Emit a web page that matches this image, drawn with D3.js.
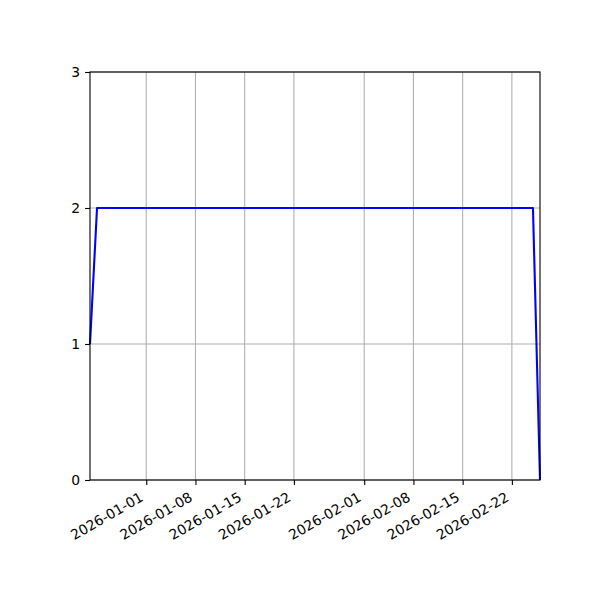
<!DOCTYPE html>
<html>
<head>
<meta charset="utf-8">
<script src="https://cdn.jsdelivr.net/npm/d3@7"></script>
<style>
  body { margin: 0; background: #fff; }
  svg text { font-family: "DejaVu Sans", sans-serif; }
</style>
</head>
<body>
<div id="chart"></div>
<script>
// data
const dates = ["2025-12-24", "2025-12-25", "2026-02-25", "2026-02-26"];
const values = [1, 2, 2, 0];
const xTicks = ["2026-01-01", "2026-01-08", "2026-01-15", "2026-01-22",
                "2026-02-01", "2026-02-08", "2026-02-15", "2026-02-22"];
const yTicks = [0, 1, 2, 3];

const parse = d3.utcParse("%Y-%m-%d");

// set the dimensions and margins of the graph
const margin = {top: 72, right: 60, bottom: 120, left: 90},
    width = 600 - margin.left - margin.right,
    height = 600 - margin.top - margin.bottom;

const svg = d3.select("#chart")
    .append("svg")
    .attr("width", 600)
    .attr("height", 600)
    .append("g")
    .attr("transform", `translate(${margin.left}, ${margin.top})`);

const data = dates.map((d, i) => ({date: parse(d), value: values[i]}));

// scales
const x = d3.scaleUtc()
    .domain(d3.extent(data, d => d.date))
    .range([0, width]);

const y = d3.scaleLinear()
    .domain([0, 3])
    .range([height, 0]);

// grid lines
svg.append("g")
    .selectAll("line")
    .data(xTicks.map(parse))
    .join("line")
    .attr("x1", d => x(d)).attr("x2", d => x(d))
    .attr("y1", 0).attr("y2", height)
    .style("stroke", "#b0b0b0")
    .style("stroke-width", 1.1);

svg.append("g")
    .selectAll("line")
    .data(yTicks)
    .join("line")
    .attr("x1", 0).attr("x2", width)
    .attr("y1", d => y(d)).attr("y2", d => y(d))
    .style("stroke", "#b0b0b0")
    .style("stroke-width", 1.1);

// the line
svg.append("path")
    .datum(data)
    .attr("fill", "none")
    .attr("stroke", "#0000ff")
    .attr("stroke-width", 2.1)
    .attr("stroke-linejoin", "round")
    .attr("d", d3.line().x(d => x(d.date)).y(d => y(d.value)));

// axes
const fmt = d3.utcFormat("%Y-%m-%d");
const xAxis = svg.append("g")
    .attr("transform", `translate(0, ${height})`)
    .call(d3.axisBottom(x).tickValues(xTicks.map(parse)).tickFormat(fmt)
        .tickSize(4.9).tickPadding(3.5));
// rotated like autofmt_xdate
xAxis.selectAll("text")
    .style("font-size", "13.9px")
    .attr("fill", "#000")
    .attr("text-anchor", "end")
    .attr("dy", null)
    .attr("y", 0).attr("x", 0)
    .attr("transform", "translate(-2.5, 20) rotate(-30)");

const yAxis = svg.append("g")
    .call(d3.axisLeft(y).tickValues(yTicks).tickFormat(d3.format("d"))
        .tickSize(4.9).tickPadding(4.9));
yAxis.selectAll("text").style("font-size", "13.9px").attr("fill", "#000");

svg.selectAll(".domain").remove();
svg.selectAll(".tick line").attr("stroke", "#000").attr("stroke-width", 1.1);

// frame
svg.append("rect")
    .attr("width", width)
    .attr("height", height)
    .attr("fill", "none")
    .attr("stroke", "#000")
    .attr("stroke-width", 1.1);
</script>
</body>
</html>
